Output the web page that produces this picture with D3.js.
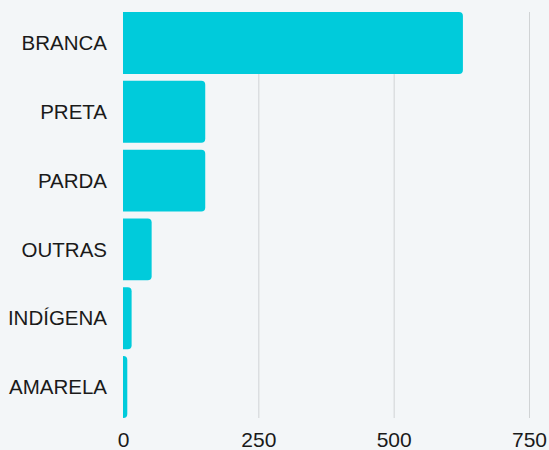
<!DOCTYPE html>
<html><head><meta charset="utf-8">
<script src="https://cdn.jsdelivr.net/npm/d3@7"></script>
<style>
html,body{margin:0;padding:0;background:#f3f6f8;}
svg{display:block;}
text{font-family:"Liberation Sans", Arial, sans-serif;fill:#1a1a1a;}
</style></head><body>
<svg id="c" width="549" height="450"></svg>
<script>
const categories = ["BRANCA","PRETA","PARDA","OUTRAS","INDÍGENA","AMARELA"];
const values = [627, 151, 151, 52, 15, 7];
const ticks = [0, 250, 500, 750];

const svg = d3.select("#c");
const x = d3.scaleLinear().domain([0, 750]).range([123.5, 529.5]);
const y = d3.scaleBand().domain(categories).range([12, 418]).paddingInner(0.1).paddingOuter(0);

svg.append("g").selectAll("line").data(ticks.slice(1)).join("line")
  .attr("x1", d => x(d)).attr("x2", d => x(d))
  .attr("y1", 12).attr("y2", 418)
  .attr("stroke", "#d0d3d5").attr("stroke-width", 1);

function barPath(x0, y0, w, h, r) {
  r = Math.min(r, w, h / 2);
  return `M${x0},${y0}H${x0 + w - r}Q${x0 + w},${y0} ${x0 + w},${y0 + r}V${y0 + h - r}Q${x0 + w},${y0 + h} ${x0 + w - r},${y0 + h}H${x0}Z`;
}

svg.append("g").selectAll("path").data(categories).join("path")
  .attr("d", (c, i) => barPath(x(0) - 0.5, y(c), x(values[i]) - x(0) + 0.5, y.bandwidth(), 4))
  .attr("fill", "#00cbdb");

svg.append("g").selectAll("text").data(categories).join("text")
  .attr("x", 107).attr("y", c => y(c) + y.bandwidth() / 2)
  .attr("dy", "0.35em").attr("text-anchor", "end")
  .attr("font-size", 20.5).text(c => c);

svg.append("g").selectAll("text").data(ticks).join("text")
  .attr("x", d => x(d)).attr("y", 447)
  .attr("text-anchor", "middle").attr("font-size", 21)
  .text(d => d);
</script></body></html>
